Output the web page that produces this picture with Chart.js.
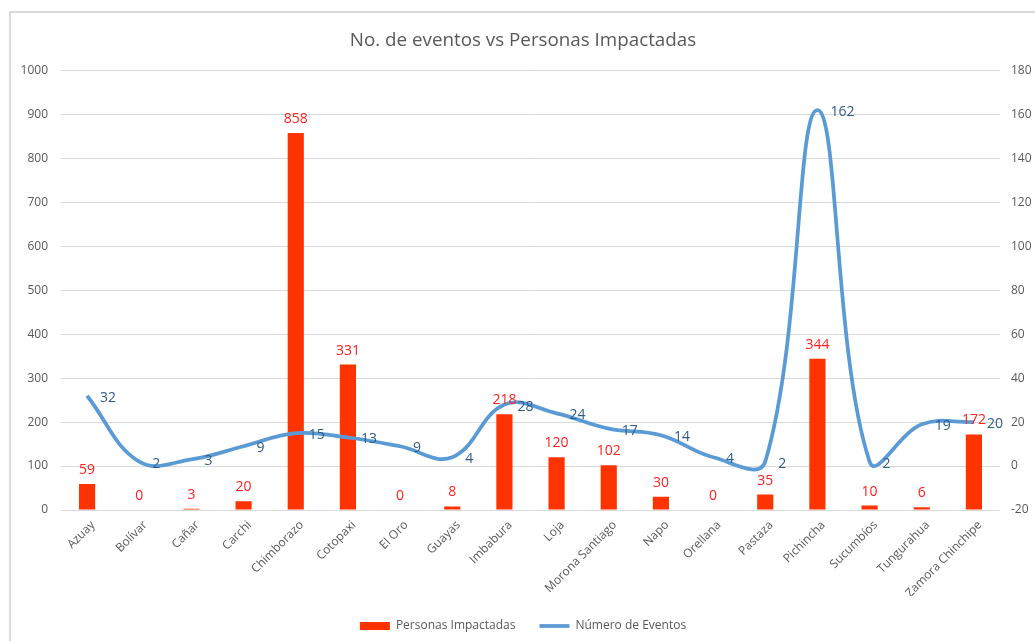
<!DOCTYPE html>
<html>
<head>
<meta charset="utf-8">
<title>No. de eventos vs Personas Impactadas</title>
<script src="https://cdn.jsdelivr.net/npm/chart.js@4"></script>
<style>
    body {
        margin: 0;
        background: #ffffff;
        overflow: hidden;
    }

    .frame {
        position: absolute;
        left: 9px;
        top: 11px;
        border-left: 2px solid #d9d9d9;
        border-top: 2px solid #d9d9d9;
    }

    canvas {
        display: block;
    }
</style>
</head>
<body>
<div class="frame">
    <canvas id="eventos" width="1024" height="628"></canvas>
</div>

<script>
var provincias = ["Azuay", "Bolívar", "Cañar", "Carchi", "Chimborazo", "Cotopaxi", "El Oro", "Guayas", "Imbabura", "Loja", "Morona Santiago", "Napo", "Orellana", "Pastaza", "Pichincha", "Sucumbíos", "Tungurahua", "Zamora Chinchipe"];
var personasImpactadas = [59, 0, 3, 20, 858, 331, 0, 8, 218, 120, 102, 30, 0, 35, 344, 10, 6, 172];
var numeroEventos = [32, 2, 3, 9, 15, 13, 9, 4, 28, 24, 17, 14, 4, 2, 162, 2, 19, 20];
var ticksIzq = [0, 100, 200, 300, 400, 500, 600, 700, 800, 900, 1000];
var ticksDer = [-20, 0, 20, 40, 60, 80, 100, 120, 140, 160, 180];

var gris = '#595959';
var fuente = "'Open Sans', 'Noto Sans', sans-serif";

// etiquetas de datos (como en excel)
var etiquetas = {
    id: 'etiquetas',
    afterDatasetsDraw: function(chart) {
        var ctx = chart.ctx;
        ctx.save();
        ctx.font = '14px ' + fuente;

        var barras = chart.getDatasetMeta(0);
        ctx.fillStyle = '#ff2020';
        ctx.textAlign = 'center';
        ctx.textBaseline = 'middle';
        barras.data.forEach(function(bar, i) {
            ctx.fillText(personasImpactadas[i], bar.x, bar.y - 14);
        });

        var linea = chart.getDatasetMeta(1);
        ctx.fillStyle = '#2f5b8a';
        ctx.textAlign = 'left';
        linea.data.forEach(function(p, i) {
            ctx.fillText(numeroEventos[i], p.x + 13, p.y + 2);
        });
        ctx.restore();
    }
};

var eventos = document.getElementById('eventos').getContext('2d');
var myChart = new Chart(eventos, {
    type: 'bar',
    data: {
        labels: provincias,
        datasets: [{
            type: 'bar',
            label: 'Personas Impactadas',
            data: personasImpactadas,
            backgroundColor: '#ff3300',
            borderWidth: 0,
            barPercentage: 0.31,
            categoryPercentage: 1,
            pointStyle: 'rect',
            yAxisID: 'y',
            order: 2
        }, {
            type: 'line',
            label: 'Número de Eventos',
            data: numeroEventos,
            borderColor: '#5b9bd5',
            backgroundColor: '#5b9bd5',
            borderWidth: 3.75,
            tension: 0.4,
            pointRadius: 0,
            pointHoverRadius: 0,
            pointStyle: 'line',
            yAxisID: 'y1',
            order: 1
        }]
    },
    options: {
        responsive: false,
        devicePixelRatio: 1,
        animation: false,
        layout: {
            padding: { left: 0, right: 0, top: 0, bottom: -1 }
        },
        plugins: {
            title: {
                display: true,
                text: 'No. de eventos vs Personas Impactadas',
                color: gris,
                font: { family: fuente, size: 18.8, weight: 'normal' },
                padding: { top: 16, bottom: 19 }
            },
            legend: {
                position: 'bottom',
                labels: {
                    color: gris,
                    font: { family: fuente, size: 12 },
                    usePointStyle: true,
                    pointStyleWidth: 30,
                    boxHeight: 8,
                    padding: 24,
                    sort: function(a, b) {
                        return a.datasetIndex - b.datasetIndex;
                    }
                }
            },
            tooltip: { enabled: false }
        },
        scales: {
            x: {
                grid: { display: false },
                border: { display: false },
                ticks: {
                    color: gris,
                    font: { family: fuente, size: 12 },
                    minRotation: 45,
                    maxRotation: 45,
                    autoSkip: false,
                    padding: 0,
                    labelOffset: 6
                },
                afterFit: function(scale) {
                    scale.height = 86;
                }
            },
            y: {
                position: 'left',
                min: 0,
                max: 1000,
                afterBuildTicks: function(scale) {
                    scale.ticks = ticksIzq.map(function(v) { return { value: v }; });
                },
                grid: { color: '#d9d9d9', lineWidth: 1, drawTicks: false },
                border: { display: false },
                ticks: {
                    color: gris,
                    font: { family: fuente, size: 12 },
                    padding: 13,
                    callback: function(v) { return String(v); }
                },
                afterFit: function(scale) {
                    scale.width = 50;
                }
            },
            y1: {
                position: 'right',
                min: -20,
                max: 180,
                afterBuildTicks: function(scale) {
                    scale.ticks = ticksDer.map(function(v) { return { value: v }; });
                },
                grid: { display: false, drawTicks: false },
                border: { display: false },
                ticks: {
                    color: gris,
                    font: { family: fuente, size: 12 },
                    padding: 11,
                    callback: function(v) { return String(v); }
                },
                afterFit: function(scale) {
                    scale.width = 35;
                }
            }
        }
    },
    plugins: [etiquetas]
});

document.title = "No. de eventos vs Personas Impactadas";
</script>
</body>
</html>
